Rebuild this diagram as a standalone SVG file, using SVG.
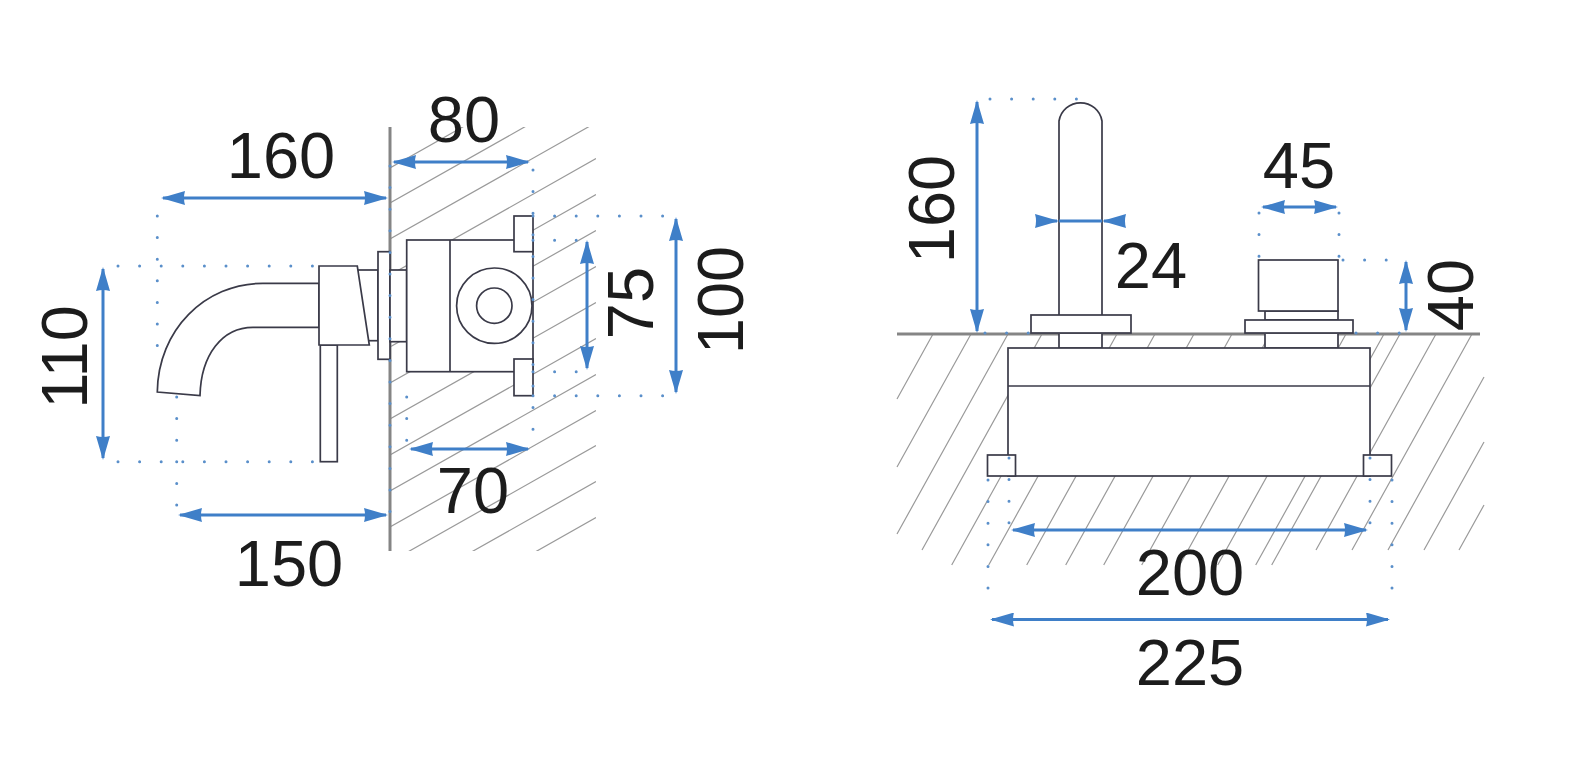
<svg xmlns="http://www.w3.org/2000/svg" width="1569" height="771" viewBox="0 0 1569 771">
<style>
.h{stroke:#9a9a9a;stroke-width:1.2;fill:none}
.w{stroke:#858585;stroke-width:3;fill:none}
.p{stroke:#3a3a48;stroke-width:1.7;fill:#fff}
.l{stroke:#3a3a48;stroke-width:1.7;fill:none}
.d{stroke:#5a8fca;stroke-width:3;stroke-linecap:round;stroke-dasharray:0 21.6;fill:none}
.a{stroke:#3f7fc8;stroke-width:3;fill:none;marker-start:url(#ah);marker-end:url(#ah)}
.b{stroke:#3f7fc8;stroke-width:3;fill:none;marker-end:url(#ah)}
.c{stroke:#3f7fc8;stroke-width:3;fill:none}
text{font-family:"Liberation Sans",Arial,sans-serif;font-size:65px;fill:#1c1c1c;text-anchor:middle}
</style>
<defs>
<marker id="ah" markerUnits="userSpaceOnUse" markerWidth="24" markerHeight="14" viewBox="0 0 24 14" refX="22" refY="7" orient="auto-start-reverse"><path d="M0 0L24 7L0 14Q2 7 0 0Z" fill="#3f7fc8"/></marker>
<clipPath id="lc"><rect x="390" y="127" width="206" height="424"/></clipPath>
</defs>
<rect width="1569" height="771" fill="#fff"/>
<g id="hatch-left" clip-path="url(#lc)" class="h">
<path d="M390 168L596 51.6M390 203L596 86.6M390 239L596 122.6M390 275L596 158.6M390 311L596 194.6M390 347L596 230.6M390 383L596 266.6M390 419L596 302.6M390 455L596 338.6M390 491L596 374.6M390 527L596 410.6M390 562L596 445.6M390 598L596 481.6M390 634L596 517.6"/>
</g>
<g id="hatch-right" class="h">
<path d="M933 334L897 399M971 334L897 467M1008 334L897 534M1042 334L922 550M1080 334L951.7 565M1117 334L988.7 565M1155 334L1026.7 565M1194 334L1065.7 565M1232 334L1103.7 565M1270 334L1141.7 565M1308 334L1179.7 565M1346 334L1217.7 565M1384 334L1255.7 565M1400 334L1271.7 565M1436 334L1316 550M1472 334L1352 550M1484 377L1388 550M1484 442L1424 550M1484 505L1459 550"/>
</g>
<g id="wall-left"><path class="w" d="M390 127V551"/></g>
<g id="wall-right"><path class="w" d="M897 334H1480"/></g>
<g id="spout"><path class="p" d="M319 283.3H263C205 283.3 158 330 157.3 392L200 395.5C201 355 222 327.3 253 327.3H319Z"/></g>
<g id="lever"><rect class="p" x="320.3" y="345" width="17" height="116.7"/></g>
<g id="neck"><rect class="p" x="358" y="270" width="20" height="70.7"/></g>
<g id="handle"><path class="p" d="M319 266H357.3L369.3 345H319Z"/></g>
<g id="flange"><rect class="p" x="378" y="251.7" width="12" height="107.6"/></g>
<g id="stub"><rect class="p" x="390" y="270" width="16.7" height="71.7"/></g>
<g id="valve-body"><rect class="p" x="406.7" y="240" width="126.3" height="131.7"/><path class="l" d="M450 240V371.7"/><circle class="l" cx="494.3" cy="305.7" r="37.7"/><circle class="l" cx="494.3" cy="305.7" r="17.7"/></g>
<g id="lug-top"><rect class="p" x="514" y="216" width="19" height="35.7"/></g>
<g id="lug-bottom"><rect class="p" x="514" y="359" width="19" height="36.7"/></g>
<g id="riser-lower"><path class="p" d="M1059 334V348H1102V334"/><path class="p" d="M1265 334V348H1338V334"/></g>
<g id="stem"><path class="p" d="M1059 315V121A21.8 21.8 0 0 1 1102 121V315"/></g>
<g id="stem-base"><rect class="p" x="1031" y="315" width="100" height="18"/></g>
<g id="knob"><rect class="p" x="1265" y="311" width="73" height="9"/><rect class="p" x="1258.500" y="260" width="79.500" height="51"/></g>
<g id="knob-base"><rect class="p" x="1245" y="320" width="108" height="13"/></g>
<g id="box"><rect class="p" x="1008" y="348" width="362" height="128"/><path class="l" d="M1008 386H1370"/></g>
<g id="lug-left"><rect class="p" x="987.500" y="455" width="28" height="21"/></g>
<g id="lug-right"><rect class="p" x="1363.500" y="455" width="28" height="21"/></g>
<g id="connectors">
<path class="d" d="M157.300 216V367M176.700 397V506M118 266H320M118 461.700H320M390 166V518M533 170V444M406.700 397V441M533 216H672M533 395.700H672M533 240.300H583M533 371.700H583"/>
<path class="d" d="M990 99H1078M1259 213V258M1339 213V258M1343 260H1392M985 333H1030M1356 333H1404M988 480V609M1009 458V524M1370 458V524M1392 480V609"/>
<path class="a" d="M163 198H386"/>
<path class="a" d="M394 162H528"/>
<path class="a" d="M411 449H528"/>
<path class="a" d="M180 515H386"/>
<path class="a" d="M103 269V458"/>
<path class="a" d="M587 242V368"/>
<path class="a" d="M676 219V392"/>
<path class="a" d="M977 102V331"/>
<path class="c" d="M1059 221H1102"/>
<path class="b" d="M1045 221H1057"/>
<path class="b" d="M1116 221H1104"/>
<path class="a" d="M1263 207H1336"/>
<path class="a" d="M1406 262V330"/>
<path class="a" d="M1013 530H1366"/>
<path class="a" d="M992 619.500H1388"/>
</g>
<g id="labels">
<text x="281" y="178">160</text>
<text x="464" y="142">80</text>
<text x="473" y="513">70</text>
<text x="289" y="586">150</text>
<text transform="translate(87 357) rotate(-90)">110</text>
<text transform="translate(653 303) rotate(-90)">75</text>
<text transform="translate(743 300) rotate(-90)">100</text>
<text transform="translate(954 209) rotate(-90)">160</text>
<text x="1151" y="288">24</text>
<text x="1299" y="188">45</text>
<text transform="translate(1473 295) rotate(-90)">40</text>
<text x="1190" y="595">200</text>
<text x="1190" y="685">225</text>
</g>
</svg>
